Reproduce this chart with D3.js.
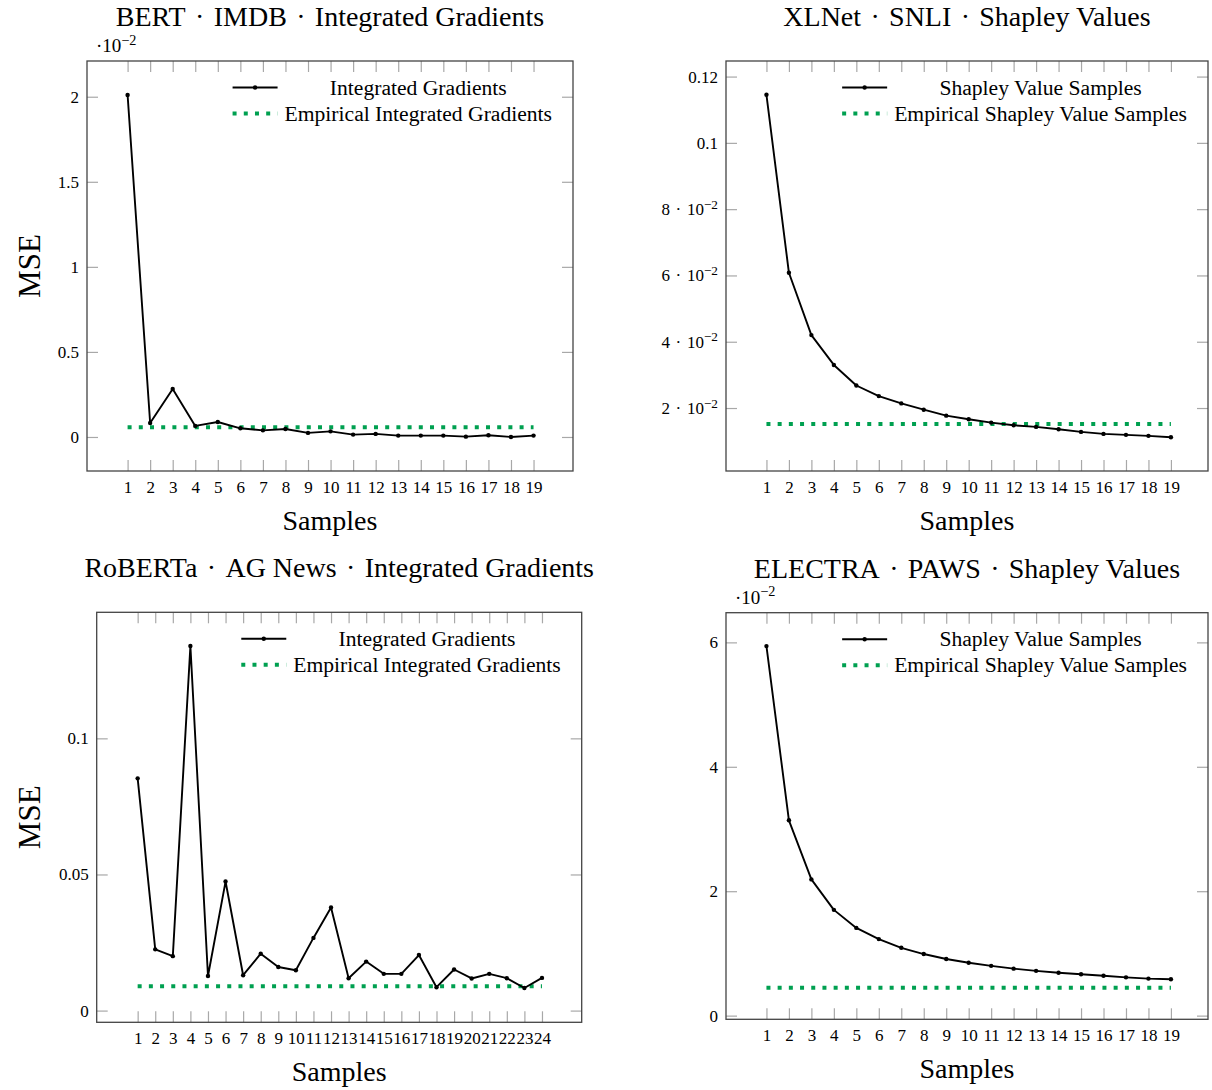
<!DOCTYPE html>
<html>
<head>
<meta charset="utf-8">
<script src="https://cdn.jsdelivr.net/npm/d3@7"></script>
<style>
  body { margin: 0; background: #fff; }
  svg text { font-family: "Liberation Serif", "Times New Roman", serif; fill: #000; }
</style>
</head>
<body>
<svg id="chart" width="1212" height="1090"></svg>
<script>
// ---- data ----
const samples19 = [1, 2, 3, 4, 5, 6, 7, 8, 9, 10, 11, 12, 13, 14, 15, 16, 17, 18, 19];
const samples24 = [1, 2, 3, 4, 5, 6, 7, 8, 9, 10, 11, 12, 13, 14, 15, 16, 17, 18, 19, 20, 21, 22, 23, 24];

// BERT / IMDB, values in units of 10^-2
const bertImdbIG = [2.01, 0.082, 0.282, 0.065, 0.088, 0.051, 0.039, 0.047, 0.024, 0.033,
                    0.014, 0.018, 0.008, 0.008, 0.008, 0.002, 0.010, 0.0, 0.008];
const bertImdbEmpirical = 0.057;

// XLNet / SNLI
const xlnetSnliSV = [0.1145, 0.0608, 0.0420, 0.0330, 0.0268, 0.0236, 0.0214, 0.0195, 0.0177, 0.0166,
                     0.0156, 0.0148, 0.0143, 0.0136, 0.0128, 0.0122, 0.0119, 0.0116, 0.0112];
const xlnetSnliEmpirical = 0.0152;

// RoBERTa / AG News
const robertaAgIG = [0.0853, 0.0225, 0.0200, 0.1339, 0.0127, 0.0474, 0.0130, 0.0209, 0.0160, 0.0148,
                     0.0267, 0.0379, 0.0119, 0.0180, 0.0135, 0.0135, 0.0204, 0.0086, 0.0151, 0.0118,
                     0.0135, 0.0119, 0.0083, 0.0120];
const robertaAgEmpirical = 0.0089;

// ELECTRA / PAWS, values in units of 10^-2
const electraPawsSV = [5.94, 3.14, 2.19, 1.70, 1.41, 1.23, 1.09, 0.99, 0.91, 0.85,
                       0.80, 0.755, 0.72, 0.69, 0.665, 0.64, 0.615, 0.595, 0.585];
const electraPawsEmpirical = 0.45;

// tick labels ("^" starts a superscript)
const ticks1 = [0, 0.5, 1, 1.5, 2];
const tickLabels1 = ["0", "0.5", "1", "1.5", "2"];
const ticks2 = [0.02, 0.04, 0.06, 0.08, 0.1, 0.12];
const tickLabels2 = ["2\u2004·\u200410^−2", "4\u2004·\u200410^−2", "6\u2004·\u200410^−2", "8\u2004·\u200410^−2", "0.1", "0.12"];
const ticks3 = [0, 0.05, 0.1];
const tickLabels3 = ["0", "0.05", "0.1"];
const ticks4 = [0, 2, 4, 6];
const tickLabels4 = ["0", "2", "4", "6"];

const IG_LABELS = ["Integrated Gradients", "Empirical Integrated Gradients"];
const SV_LABELS = ["Shapley Value Samples", "Empirical Shapley Value Samples"];

const DOT = "\u2004·\u2004";
const GREEN = "#00a050";
const TICK_GRAY = "#a8a8a8";

const panels = [
  { title: ["BERT", "IMDB", "Integrated Gradients"], box: { l: 87, r: 573, t: 61, b: 471 },
    x: samples19, y: bertImdbIG, emp: bertImdbEmpirical, xDomain: [-0.8, 20.75], yDomain: [-0.2, 2.21],
    ticks: ticks1, tickLabels: tickLabels1, mult: "·10^−2", ylabel: "MSE", legend: IG_LABELS },
  { title: ["XLNet", "SNLI", "Shapley Values"], box: { l: 726, r: 1208, t: 61, b: 471 },
    x: samples19, y: xlnetSnliSV, emp: xlnetSnliEmpirical, xDomain: [-0.8, 20.65], yDomain: [0.001, 0.1247],
    ticks: ticks2, tickLabels: tickLabels2, mult: null, ylabel: null, legend: SV_LABELS },
  { title: ["RoBERTa", "AG News", "Integrated Gradients"], box: { l: 96.7, r: 581.7, t: 612.3, b: 1022.3 },
    x: samples24, y: robertaAgIG, emp: robertaAgEmpirical, xDomain: [-1.33, 26.26], yDomain: [-0.0043, 0.1463],
    ticks: ticks3, tickLabels: tickLabels3, mult: null, ylabel: "MSE", legend: IG_LABELS },
  { title: ["ELECTRA", "PAWS", "Shapley Values"], box: { l: 726, r: 1208, t: 612.7, b: 1019.3 },
    x: samples19, y: electraPawsSV, emp: electraPawsEmpirical, xDomain: [-0.8, 20.65], yDomain: [-0.059, 6.477],
    ticks: ticks4, tickLabels: tickLabels4, mult: "·10^−2", ylabel: null, legend: SV_LABELS }
];

const svg = d3.select("#chart");

// writes "base^sup" as text with a raised tspan
function mathText(sel, str, size, supScale) {
  const parts = str.split("^");
  sel.append("tspan").text(parts[0]);
  if (parts.length > 1) {
    sel.append("tspan")
      .attr("dy", -size * 0.38)
      .attr("font-size", size * (supScale || 0.78))
      .text(parts[1]);
  }
}

function drawPanel(p) {
  const b = p.box;
  const x = d3.scaleLinear().domain(p.xDomain).range([b.l, b.r]);
  const y = d3.scaleLinear().domain(p.yDomain).range([b.b, b.t]);
  const g = svg.append("g");
  const tickLen = 11;

  // title
  g.append("text")
    .attr("x", (b.l + b.r) / 2)
    .attr("y", b.t - 35)
    .attr("text-anchor", "middle")
    .attr("font-size", 28)
    .text(p.title.join(DOT));

  // x ticks top and bottom (inward)
  g.append("g")
    .attr("transform", `translate(0,${b.b})`)
    .call(d3.axisBottom(x).tickValues(p.x).tickSize(-tickLen).tickPadding(10).tickFormat(d3.format("d")))
    .call(a => a.select(".domain").remove())
    .call(a => a.selectAll(".tick line").attr("stroke", TICK_GRAY).attr("stroke-width", 1.2))
    .call(a => a.selectAll(".tick text").attr("font-size", 17).attr("font-family", "Liberation Serif"));

  g.append("g")
    .attr("transform", `translate(0,${b.t})`)
    .call(d3.axisTop(x).tickValues(p.x).tickSize(-tickLen).tickFormat(""))
    .call(a => a.select(".domain").remove())
    .call(a => a.selectAll(".tick line").attr("stroke", TICK_GRAY).attr("stroke-width", 1.2));

  // y ticks left and right
  const yl = g.append("g")
    .attr("transform", `translate(${b.l},0)`)
    .call(d3.axisLeft(y).tickValues(p.ticks).tickSize(-tickLen).tickPadding(8).tickFormat(""))
    .call(a => a.select(".domain").remove())
    .call(a => a.selectAll(".tick line").attr("stroke", TICK_GRAY).attr("stroke-width", 1.2));
  yl.selectAll(".tick text").each(function (d, i) {
    const t = d3.select(this)
      .attr("x", -8)
      .attr("font-size", 17)
      .attr("font-family", "Liberation Serif");
    mathText(t, p.tickLabels[i], 17);
  });

  g.append("g")
    .attr("transform", `translate(${b.r},0)`)
    .call(d3.axisRight(y).tickValues(p.ticks).tickSize(-tickLen).tickFormat(""))
    .call(a => a.select(".domain").remove())
    .call(a => a.selectAll(".tick line").attr("stroke", TICK_GRAY).attr("stroke-width", 1.2));

  // frame
  g.append("rect")
    .attr("x", b.l).attr("y", b.t)
    .attr("width", b.r - b.l).attr("height", b.b - b.t)
    .attr("fill", "none")
    .attr("stroke", "#444")
    .attr("stroke-width", 1.3);

  // scale multiplier
  if (p.mult) {
    const mt = g.append("text")
      .attr("x", b.l + 9)
      .attr("y", b.t - 9)
      .attr("font-size", 19);
    mathText(mt, p.mult, 19, 0.75);
  }

  // axis labels
  g.append("text")
    .attr("x", (b.l + b.r) / 2)
    .attr("y", b.b + 59)
    .attr("text-anchor", "middle")
    .attr("font-size", 28)
    .text("Samples");

  if (p.ylabel) {
    g.append("text")
      .attr("transform", `translate(40,${(b.t + b.b) / 2}) rotate(-90)`)
      .attr("text-anchor", "middle")
      .attr("font-size", 31)
      .text(p.ylabel);
  }

  // empirical line
  g.append("line")
    .attr("x1", x(p.x[0])).attr("x2", x(p.x[p.x.length - 1]))
    .attr("y1", y(p.emp)).attr("y2", y(p.emp))
    .attr("stroke", GREEN)
    .attr("stroke-width", 4)
    .attr("stroke-dasharray", "4 7.2");

  // sample series
  const pts = p.x.map((v, i) => [v, p.y[i]]);
  g.append("path")
    .datum(pts)
    .attr("fill", "none")
    .attr("stroke", "#000")
    .attr("stroke-width", 1.9)
    .attr("stroke-linejoin", "round")
    .attr("d", d3.line().x(d => x(d[0])).y(d => y(d[1])));

  g.selectAll(".dot")
    .data(pts)
    .enter()
    .append("circle")
    .attr("cx", d => x(d[0]))
    .attr("cy", d => y(d[1]))
    .attr("r", 2.2)
    .attr("fill", "#000");

  // legend
  const lg = g.append("g");
  const labels = lg.selectAll("text.leg")
    .data(p.legend)
    .enter()
    .append("text")
    .attr("class", "leg")
    .attr("font-size", 21.6)
    .attr("text-anchor", "middle")
    .text(d => d);
  let colW = 0;
  labels.each(function () { colW = Math.max(colW, this.getComputedTextLength()); });
  const colRight = b.r - 21;
  const colLeft = colRight - colW;
  const rowY = [b.t + 26.5, b.t + 52.5];
  labels
    .attr("x", (colLeft + colRight) / 2)
    .attr("y", (d, i) => rowY[i])
    .attr("dy", "0.33em");

  const sx1 = colLeft - 52, sx2 = colLeft - 7;
  lg.append("line")
    .attr("x1", sx1).attr("x2", sx2)
    .attr("y1", rowY[0]).attr("y2", rowY[0])
    .attr("stroke", "#000").attr("stroke-width", 1.9);
  lg.append("circle")
    .attr("cx", (sx1 + sx2) / 2).attr("cy", rowY[0])
    .attr("r", 2.2).attr("fill", "#000");
  lg.append("line")
    .attr("x1", sx1).attr("x2", sx2)
    .attr("y1", rowY[1]).attr("y2", rowY[1])
    .attr("stroke", GREEN).attr("stroke-width", 4)
    .attr("stroke-dasharray", "4 7.2");
}

panels.forEach(drawPanel);
</script>
</body>
</html>
